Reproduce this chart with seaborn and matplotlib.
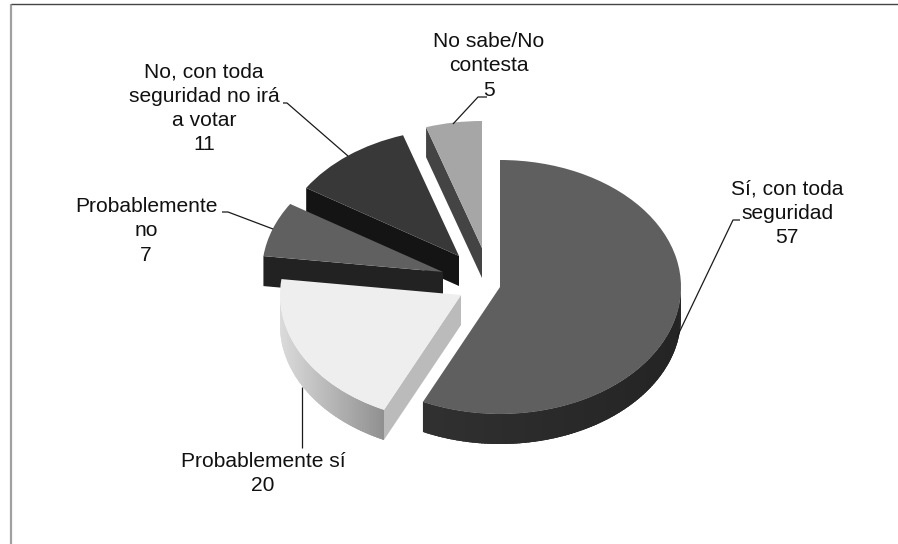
import numpy as np
import matplotlib
matplotlib.use("Agg")
import matplotlib.pyplot as plt
from matplotlib.patches import Polygon
import seaborn as sns

# ---- data ----
categories = ["Sí, con toda\nseguridad", "Probablemente sí", "Probablemente\nno",
              "No, con toda\nseguridad no irá\na votar", "No sabe/No\ncontesta"]
values = [57, 20, 7, 11, 5]

# ---- style / layout (pixel positions on the 898x544 canvas) ----
W, H = 898, 544
squash = 127 / 181
radius = 181
depth = 30
centers_px = [(500, 287), (461, 295), (443, 272), (459, 256), (482, 248)]
face_greys = ["#5f5f5f", "#eeeeee", "#606060", "#383838", "#a6a6a6"]
radial_greys = ["#262626", "#bbbbbb", "#222222", "#141414", "#444444"]
wall_left_right = [(0.19, 0.14), (0.86, 0.56), (0.13, 0.13), (0.08, 0.08), (0.27, 0.27)]
label_pos_px = [(787, 213.5), (263, 473.5), (146, 231), (204, 108.5), (489, 66)]
leaders_px = [
    [(740, 220), (733, 220), (677, 337)],
    [(302, 448), (302, 387)],
    [(222, 212), (228, 212), (273, 229)],
    [(283, 103), (287, 103), (348, 156)],
    [(487, 97), (478, 97), (453, 124)],
]

sns.set_theme(style="white")
plt.rcParams["font.family"] = ["Liberation Sans", "DejaVu Sans"]


def yd(py):
    return (H - py) / squash


fig = plt.figure(figsize=(W / 100, H / 100), dpi=100, facecolor="white")
ax = fig.add_axes([0, 0, 1, 1])

wedges, _ = ax.pie(values, startangle=90, counterclock=False, radius=radius,
                   colors=sns.color_palette(face_greys),
                   wedgeprops={"linewidth": 0})
ax.set_aspect("auto")
ax.set_xlim(0, W)
ax.set_ylim(0, H / squash)
ax.axis("off")

dz = depth / squash
for i, w in enumerate(wedges):
    cx, cy = centers_px[i][0], yd(centers_px[i][1])
    w.set_center((cx, cy))
    base = 10 * (len(wedges) - i)
    w.set_zorder(base + 2)

    # radial cut face at the clockwise start of the slice
    a1 = np.radians(w.theta2)
    if np.cos(a1) < -1e-6:
        ex, ey = cx + radius * np.cos(a1), cy + radius * np.sin(a1)
        ax.add_patch(Polygon([(cx, cy), (ex, ey), (ex, ey - dz), (cx, cy - dz)],
                             closed=True, fc=radial_greys[i], ec="none",
                             lw=0, zorder=base))

    # outer wall where the rim faces the viewer; quads overlap to avoid seams
    th = np.arange(np.floor(w.theta1), np.ceil(w.theta2) + 1.0)
    th = np.clip(th, w.theta1, w.theta2)
    gl, gr = wall_left_right[i]
    xs_rim = cx + radius * np.cos(np.radians(th[np.sin(np.radians(th)) <= 0]))
    xmin, xmax = (xs_rim.min(), xs_rim.max()) if xs_rim.size else (cx - radius, cx + radius)
    for t0, t1 in zip(th[:-1], th[1:]):
        if np.sin(np.radians((t0 + t1) / 2)) >= 0:
            continue
        # stretch each quad over its neighbour on the far side
        t_end = min(t1 + 1.5, w.theta2, 360.0)
        if np.sin(np.radians(t_end)) > 0:
            t_end = t1
        arc = np.radians(np.linspace(t0, t_end, 4))
        xa, ya = cx + radius * np.cos(arc), cy + radius * np.sin(arc)
        f = float(np.clip((xa[0] - xmin) / max(xmax - xmin, 1), 0, 1))
        g = gl + (gr - gl) * f
        col = (g, g, g)
        pts = list(zip(xa, ya)) + list(zip(xa[::-1], ya[::-1] - dz))
        ax.add_patch(Polygon(pts, closed=True, fc=col, ec="none", lw=0, zorder=base + 1))

# leader lines
for pts in leaders_px:
    ax.plot([p[0] for p in pts], [yd(p[1]) for p in pts], color="#1a1a1a", lw=0.9,
            zorder=100, solid_capstyle="butt")

# labels
for cat, val, (px, py) in zip(categories, values, label_pos_px):
    ax.text(px, yd(py), f"{cat}\n{val}", ha="center", va="center", fontsize=15.1,
            linespacing=1.34, color="#111111", zorder=101)

# outer frame
ax.plot([11, 11], [yd(H), yd(4)], color="#a0a0a0", lw=1.6, zorder=1, solid_capstyle="butt")
ax.plot([11, W], [yd(4), yd(4)], color="#444444", lw=1.0, zorder=1, solid_capstyle="butt")

fig.savefig("out.png", dpi=100, facecolor="white")
